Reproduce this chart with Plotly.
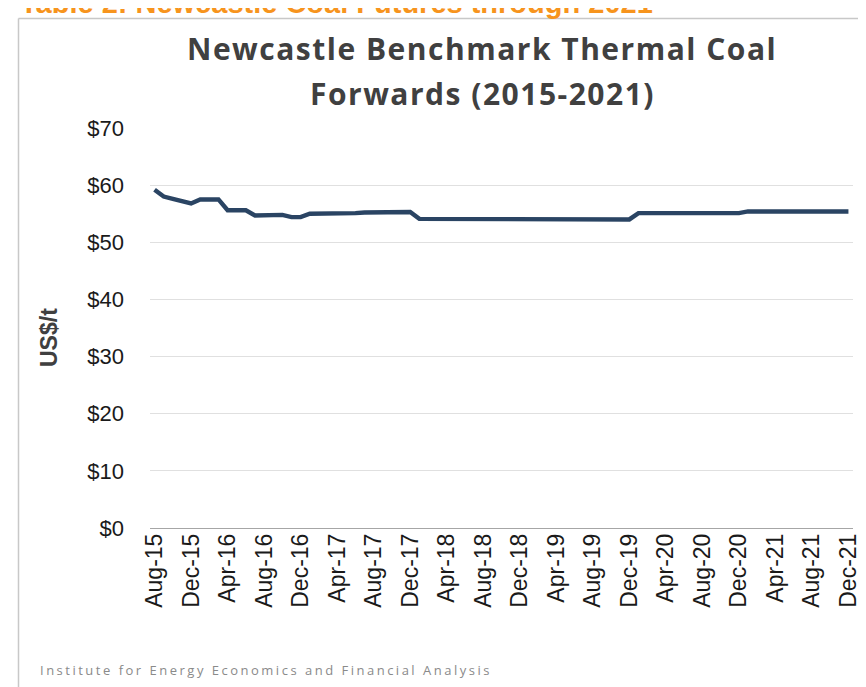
import plotly.graph_objects as go

months = []
mnames = ["Jan","Feb","Mar","Apr","May","Jun","Jul","Aug","Sep","Oct","Nov","Dec"]
for y in range(2015, 2022):
    for m in range(12):
        if y == 2015 and m < 7:
            continue
        months.append(f"{mnames[m]}-{str(y)[2:]}")

prices = [
    59.2, 58.0, 57.6, 57.2, 56.8,            # Aug-15 .. Dec-15
    57.5, 57.5, 57.5, 55.6, 55.6, 55.6, 54.7, 54.7, 54.7, 54.8, 54.4, 54.4,  # 2016
    55.0, 55.0, 55.0, 55.1, 55.1, 55.1, 55.2, 55.2, 55.2, 55.3, 55.3, 55.3,  # 2017
    54.1, 54.1, 54.1, 54.1, 54.1, 54.1, 54.1, 54.1, 54.1, 54.1, 54.1, 54.1,  # 2018
    54.1, 54.0, 54.0, 54.0, 54.0, 54.0, 54.0, 54.0, 54.0, 54.0, 54.0, 54.0,  # 2019
    55.1, 55.1, 55.1, 55.1, 55.1, 55.1, 55.1, 55.1, 55.1, 55.1, 55.1, 55.1,  # 2020
    55.4, 55.4, 55.4, 55.4, 55.4, 55.4, 55.4, 55.4, 55.4, 55.4, 55.4, 55.4,  # 2021
]

tick_labels = months[::4]
y_ticks = [0, 10, 20, 30, 40, 50, 60, 70]
y_tick_text = ["$0", "$10", "$20", "$30", "$40", "$50", "$60", "$70"]

title_line1 = "Newcastle Benchmark Thermal Coal"
title_line2 = "Forwards (2015-2021)"
header = "Table 2: Newcastle Coal Futures through 2021"
footer = "Institute for Energy Economics and Financial Analysis"
y_title = "US$/t"

W, H = 866, 687
L, R, T, B = 142, 21, 120, 167
pw, ph = W - L - R, H - T - B

def px(xp):
    return (xp - L) / pw

def py(yp):
    return (H - B - yp) / ph

fig = go.Figure()
fig.add_trace(go.Scatter(
    x=months, y=prices, mode="lines",
    line=dict(color="#2a4463", width=4.4),
    hoverinfo="skip", showlegend=False,
))

fig.update_layout(
    width=W, height=H,
    margin=dict(l=L, r=R, t=T, b=B),
    paper_bgcolor="white", plot_bgcolor="white",
    showlegend=False,
    xaxis=dict(
        type="category", categoryorder="array", categoryarray=months,
        tickmode="array", tickvals=tick_labels, ticktext=tick_labels,
        tickangle=-90, showgrid=False, ticks="",
        tickfont=dict(family="Liberation Sans, Arial", size=23, color="#1a1a1a"),
        showline=False, zeroline=False,
        ticklabelstandoff=0,
        range=[-0.5, len(months) - 0.5], fixedrange=True,
    ),
    yaxis=dict(
        range=[0, 70], tickmode="array", tickvals=y_ticks, ticktext=y_tick_text,
        showgrid=True, gridcolor="#e0e0e0", gridwidth=1,
        zeroline=True, zerolinecolor="#a6a6a6", zerolinewidth=1.3,
        ticks="", showline=False,
        tickfont=dict(family="Liberation Sans, Arial", size=22, color="#1a1a1a"),
        ticklabelstandoff=25, fixedrange=True,
    ),
)

# frame border (left and top)
fig.add_shape(type="line", xref="paper", yref="paper",
              x0=px(10.5), x1=px(10.5), y0=py(H + 5), y1=py(10.5),
              line=dict(color="#c8c8c8", width=1.5))
fig.add_shape(type="line", xref="paper", yref="paper",
              x0=px(10.5), x1=px(W + 5), y0=py(10.5), y1=py(10.5),
              line=dict(color="#c8c8c8", width=1.5))

annots = [
    dict(text=f"<b>{header}</b>", x=px(10), y=py(13), xanchor="left", yanchor="bottom",
         font=dict(family="Liberation Sans, Arial", size=29, color="#f7941d")),
    dict(text=f'<b><span style="letter-spacing:1.5px">{title_line1}</span></b>',
         x=px(474), y=py(40), xanchor="center", yanchor="middle",
         font=dict(family="Open Sans", size=30, color="#404040")),
    dict(text=f'<b><span style="letter-spacing:1.5px">{title_line2}</span></b>',
         x=px(474), y=py(85), xanchor="center", yanchor="middle",
         font=dict(family="Open Sans", size=30, color="#404040")),
    dict(text=f"<b>{y_title}</b>", x=px(41), y=py(330), xanchor="center", yanchor="middle",
         textangle=-90,
         font=dict(family="Liberation Sans, Arial", size=23, color="#404040")),
    dict(text=f'<span style="letter-spacing:2.5px">{footer}</span>', x=px(30), y=py(662),
         xanchor="left", yanchor="middle",
         font=dict(family="Open Sans", size=13, color="#8a8a8a")),
]
for a in annots:
    a.update(xref="paper", yref="paper", showarrow=False)
    fig.add_annotation(**a)

fig.write_html("out.html")
